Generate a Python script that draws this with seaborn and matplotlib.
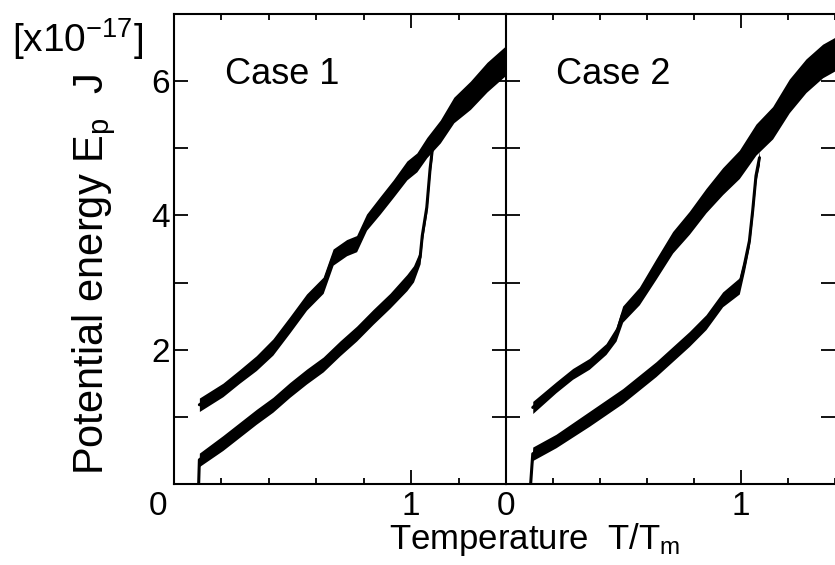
import numpy as np
import matplotlib
matplotlib.use('Agg')
import matplotlib.pyplot as plt
from matplotlib.ticker import MultipleLocator
import seaborn as sns

# Case 1: heating branch (lower) and cooling branch (upper), E_p in 1e-17 J
c1_heat_t = [0.104, 0.107, 0.206, 0.347, 0.417, 0.488, 0.559, 0.629, 0.70, 0.77, 0.84, 0.911, 0.982,
             1.01, 1.038, 1.047, 1.066, 1.08, 1.09]
c1_heat_e = [0.0, 0.36, 0.61, 1.0, 1.18, 1.40, 1.60, 1.78, 2.02, 2.24, 2.49, 2.73, 3.0,
             3.13, 3.38, 3.7, 4.12, 4.7, 5.0]
c1_heat_s = [0.0, 0.1, 0.11, 0.11, 0.11, 0.11, 0.11, 0.11, 0.11, 0.11, 0.11, 0.11, 0.12,
             0.12, 0.1, 0.08, 0.08, 0.08, 0.1]

c1_cool_t = [0.107, 0.206, 0.276, 0.347, 0.417, 0.488, 0.559, 0.629, 0.671, 0.728, 0.77, 0.812, 0.869,
             0.925, 0.982, 1.024, 1.066, 1.123, 1.18, 1.25, 1.32, 1.40]
c1_cool_e = [1.18, 1.40, 1.60, 1.80, 2.04, 2.37, 2.71, 2.96, 3.38, 3.52, 3.58, 3.90, 4.15,
             4.40, 4.67, 4.79, 5.01, 5.25, 5.57, 5.79, 6.06, 6.31]
c1_cool_s = [0.1, 0.1, 0.1, 0.11, 0.12, 0.12, 0.12, 0.12, 0.12, 0.12, 0.12, 0.12, 0.13,
             0.13, 0.14, 0.14, 0.15, 0.17, 0.19, 0.21, 0.22, 0.22]

# Case 2
c2_heat_t = [0.105, 0.114, 0.213, 0.355, 0.497, 0.639, 0.781, 0.852, 0.923, 0.994,
             1.016, 1.037, 1.051, 1.065, 1.08]
c2_heat_e = [0.0, 0.45, 0.64, 0.97, 1.31, 1.71, 2.16, 2.41, 2.75, 2.95,
             3.27, 3.62, 4.07, 4.59, 4.86]
c2_heat_s = [0.0, 0.1, 0.1, 0.11, 0.11, 0.11, 0.11, 0.11, 0.11, 0.12,
             0.1, 0.08, 0.08, 0.08, 0.1]

c2_cool_t = [0.114, 0.213, 0.284, 0.355, 0.426, 0.469, 0.497, 0.568, 0.639, 0.71, 0.781, 0.852,
             0.923, 0.994, 1.065, 1.136, 1.207, 1.278, 1.349, 1.40]
c2_cool_e = [1.14, 1.44, 1.64, 1.79, 2.01, 2.23, 2.53, 2.80, 3.20, 3.60, 3.89, 4.22,
             4.51, 4.76, 5.13, 5.38, 5.78, 6.08, 6.30, 6.40]
c2_cool_s = [0.09, 0.08, 0.08, 0.08, 0.08, 0.1, 0.12, 0.13, 0.15, 0.16, 0.17, 0.18,
             0.2, 0.21, 0.23, 0.24, 0.25, 0.25, 0.25, 0.25]

cases = [
    ('Case 1', [(c1_heat_t, c1_heat_e, c1_heat_s), (c1_cool_t, c1_cool_e, c1_cool_s)]),
    ('Case 2', [(c2_heat_t, c2_heat_e, c2_heat_s), (c2_cool_t, c2_cool_e, c2_cool_s)]),
]

sns.set_theme(style='ticks')
plt.rcParams['font.family'] = ['Liberation Sans', 'DejaVu Sans']
plt.rcParams['mathtext.fontset'] = 'custom'
plt.rcParams['mathtext.rm'] = 'Liberation Sans'
plt.rcParams['mathtext.it'] = 'Liberation Sans:italic'
plt.rcParams['axes.linewidth'] = 1.5
for k in ['text.color', 'axes.labelcolor', 'xtick.color', 'ytick.color', 'axes.edgecolor']:
    plt.rcParams[k] = 'black'

fig = plt.figure(figsize=(8.35, 5.65), dpi=100)
ax1 = fig.add_axes([174 / 835, 81 / 565, 332 / 835, 470 / 565])
ax2 = fig.add_axes([506 / 835, 81 / 565, 328.6 / 835, 470 / 565])

for ax, (name, curves) in zip([ax1, ax2], cases):
    for t, e, s in curves:
        t = np.array(t)
        e = np.array(e)
        s = np.array(s)
        ax.fill_between(t, e - s, e + s, color='black', lw=0)
        sns.lineplot(x=t, y=e, ax=ax, color='black', lw=2.2, sort=False, estimator=None)
    ax.set_xlim(0, 1.4)
    ax.set_ylim(0, 7)
    ax.set_xticks([0, 1])
    ax.xaxis.set_minor_locator(MultipleLocator(0.2))
    ax.set_yticks(range(8))
    ax.set_yticklabels(['', '', '2', '', '4', '', '6', ''])
    ax.tick_params(axis='x', which='both', top=True, bottom=True, direction='in',
                   width=1.3, labelsize=24, pad=5)
    ax.tick_params(axis='x', which='major', length=10)
    ax.tick_params(axis='x', which='minor', length=4.5)
    ax.tick_params(axis='y', which='major', left=True, right=True, direction='in',
                   length=10, width=1.3, labelsize=24, pad=3)
    ax.set_facecolor('white')
    ax.text(0.215, 5.95, name, fontsize=26, ha='left', va='baseline')

ax1.set_xticklabels(['', '1'])
ax1.spines['right'].set_visible(False)
ax1.text(-0.068, -0.11, '0', fontsize=24, ha='center', va='top', clip_on=False)

ax2.set_xticklabels(['0', '1'])
ax2.set_yticklabels([])
ax2.spines['right'].set_visible(False)

fig.text(103 / 835, 1 - 275 / 565, 'Potential energy E$_\\mathrm{p}$  J', fontsize=30,
         rotation=90, rotation_mode='anchor', ha='center', va='baseline')
fig.text(535 / 835, 1 - 549 / 565, 'Temperature  T/T$_\\mathrm{m}$', fontsize=25,
         ha='center', va='baseline')
fig.text(12 / 835, 1 - 52 / 565, '[x10$^{-17}$]', fontsize=28, ha='left', va='baseline')

fig.savefig('out.png', dpi=100, facecolor='white')
